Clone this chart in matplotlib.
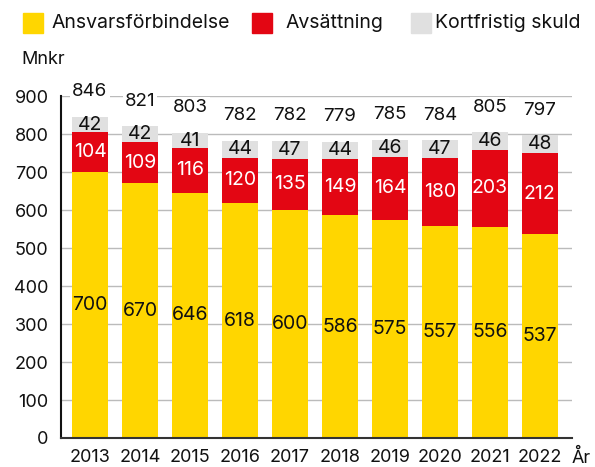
import matplotlib
matplotlib.use("Agg")
import matplotlib.pyplot as plt
from matplotlib.patches import Rectangle
import numpy as np

plt.rcParams['font.family'] = ['Inter', 'DejaVu Sans']

years = ['2013', '2014', '2015', '2016', '2017', '2018', '2019', '2020', '2021', '2022']
ansvar = [700, 670, 646, 618, 600, 586, 575, 557, 556, 537]
avsattning = [104, 109, 116, 120, 135, 149, 164, 180, 203, 212]
kortfristig = [42, 42, 41, 44, 47, 44, 46, 47, 46, 48]
totals = [846, 821, 803, 782, 782, 779, 785, 784, 805, 797]
yticks = [0, 100, 200, 300, 400, 500, 600, 700, 800, 900]

names = ['Ansvarsförbindelse', 'Avsättning', 'Kortfristig skuld']
colors = ['#FFD600', '#E30613', '#E0E0E0']
text_colors = ['#111111', 'white', '#111111']

fig = plt.figure(figsize=(5.95, 4.67), dpi=100)
ax = fig.add_axes([0.1025, 0.0621, 0.8585, 0.7323])

x = np.arange(len(years))
bottom = np.zeros(len(years))
for vals, col, tc in zip([ansvar, avsattning, kortfristig], colors, text_colors):
    vals = np.array(vals)
    ax.bar(x, vals, width=0.72, bottom=bottom, color=col, zorder=2)
    for xi, b, v in zip(x, bottom, vals):
        ax.text(xi, b + v / 2, str(v), ha='center', va='center', fontsize=14, color=tc, zorder=3)
    bottom = bottom + vals

for xi, t in zip(x, bottom):
    ax.annotate(str(totals[xi]), (xi, t), xytext=(0, 18), textcoords='offset points',
                ha='center', va='center', fontsize=13.5, color='#111111', annotation_clip=False,
                bbox=dict(facecolor='white', edgecolor='none', pad=1.5), zorder=4)

ax.set_xlim(-0.58, 9.64)
ax.set_ylim(0, 900)
ax.set_yticks(yticks)
ax.set_xticks(x)
ax.set_xticklabels(years)
ax.tick_params(length=0, labelsize=13, colors='#111111')
ax.tick_params(axis='y', pad=9)
ax.tick_params(axis='x', pad=8)
ax.yaxis.grid(True, color='#BBBBBB', linewidth=1, zorder=0)
ax.set_axisbelow(True)
for s in ['top', 'right']:
    ax.spines[s].set_visible(False)
ax.spines['left'].set_color('#111111')
ax.spines['bottom'].set_color('#333333')
ax.spines['left'].set_linewidth(1.5)
ax.spines['bottom'].set_linewidth(1.5)

fig.text(21 / 595, 1 - 60 / 467, 'Mnkr', fontsize=13, ha='left', va='center', color='#111111')
fig.text(572 / 595, 1 - 458 / 467, 'År', fontsize=13, ha='left', va='center', color='#111111')

# legend
leg_x = [23, 252, 411]
leg_tx = [51, 286, 435]
for lx, tx, name, col in zip(leg_x, leg_tx, names, colors):
    fig.patches.append(Rectangle((lx / 595, 1 - 33 / 467), 20 / 595, 20 / 467,
                                 transform=fig.transFigure, color=col, figure=fig))
    fig.text(tx / 595, 1 - 23 / 467, name, fontsize=14, ha='left', va='center', color='#111111')

fig.savefig('out.png', dpi=100)
